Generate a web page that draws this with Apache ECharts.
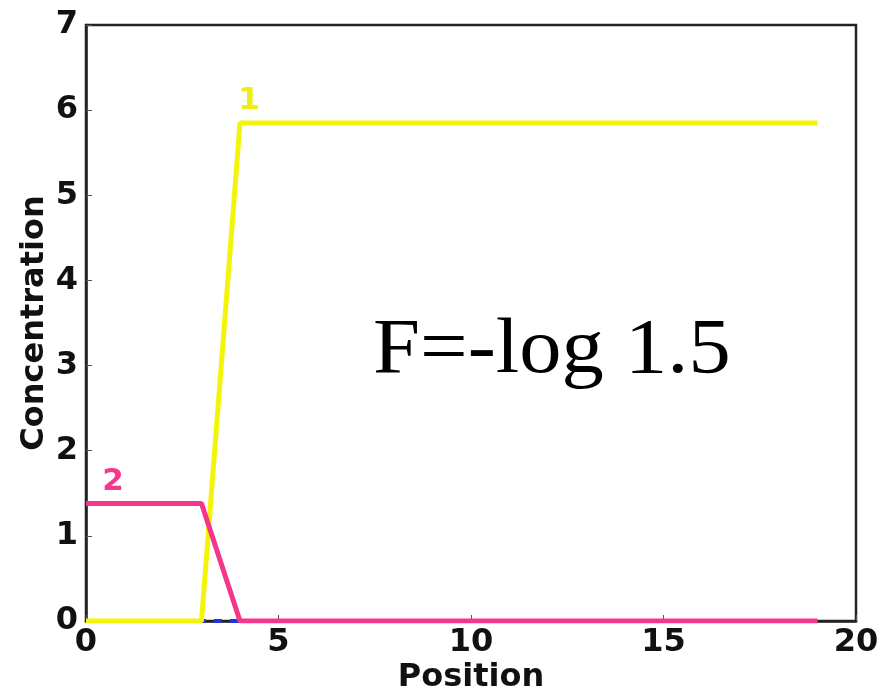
<!DOCTYPE html>
<html>
<head>
<meta charset="utf-8">
<script src="https://cdn.jsdelivr.net/npm/echarts@6/dist/echarts.min.js"></script>
<style>html,body{margin:0;padding:0;background:#fff;}#chart{width:883px;height:697px;}</style>
</head>
<body>
<div id="chart"></div>
<script>
// positions along the tube
var positions = [0, 1, 2, 3, 4, 5, 6, 7, 8, 9, 10, 11, 12, 13, 14, 15, 16, 17, 18, 19];
// species 1 (yellow), species 2 (pink), species 3 (blue, mostly hidden underneath)
var conc1 = [0, 0, 0, 0, 5.85, 5.85, 5.85, 5.85, 5.85, 5.85, 5.85, 5.85, 5.85, 5.85, 5.85, 5.85, 5.85, 5.85, 5.85, 5.85];
var conc2 = [1.38, 1.38, 1.38, 1.38, 0, 0, 0, 0, 0, 0, 0, 0, 0, 0, 0, 0, 0, 0, 0, 0];
var conc3 = [0, 0, 0, 0, 0, 0, 0, 0, 0, 0, 0, 0, 0, 0, 0, 0, 0, 0, 0, 0];
var curveNames = ['1', '2', '3'];
var labelIndex = [4, 0];

var chart = echarts.init(document.getElementById('chart'));

function pairs(vals) {
    return vals.map(function (v, i) { return [positions[i], v]; });
}

// curve number written just above one point of the curve
function curveTag(vals, idx, name, color, dx) {
    return {
        symbol: 'circle', symbolSize: 0, silent: true,
        data: [{ coord: [positions[idx], vals[idx]] }],
        label: {
            show: true, formatter: name, position: 'top', distance: 6,
            offset: [dx, 0],
            color: color, fontSize: 31, fontWeight: 'bold', fontFamily: 'DejaVu Sans'
        }
    };
}

var tickFont = { fontFamily: 'DejaVu Sans', fontWeight: 'bold', fontSize: 32, color: '#111' };
var nameFont = { fontFamily: 'DejaVu Sans', fontWeight: 'bold', fontSize: 32, color: '#111' };

var option = {
    animation: false,
    grid: { left: 86, top: 25, right: 27, bottom: 76, outerBoundsMode: 'none',
            show: true, borderColor: '#222', borderWidth: 2.5 },
    xAxis: {
        type: 'value', min: 0, max: 20, interval: 5,
        name: 'Position', nameLocation: 'middle', nameGap: 41, nameMoveOverlap: false,
        nameTextStyle: nameFont,
        axisLine: { show: true, lineStyle: { color: '#222', width: 2.5 } },
        axisTick: { show: true, inside: true, length: 6, lineStyle: { color: '#555' } },
        axisLabel: Object.assign({ margin: 6 }, tickFont),
        splitLine: { show: false }
    },
    yAxis: {
        type: 'value', min: 0, max: 7, interval: 1,
        name: 'Concentration', nameLocation: 'middle', nameGap: 35, nameMoveOverlap: false,
        nameTextStyle: nameFont,
        axisLine: { show: true, lineStyle: { color: '#222', width: 2.5 } },
        axisTick: { show: true, inside: true, length: 6, lineStyle: { color: '#555' } },
        axisLabel: Object.assign({ margin: 8 }, tickFont),
        splitLine: { show: false }
    },
    graphic: [{
        type: 'text', left: 373, top: 312, scaleX: 1.07,
        style: { text: 'F=-log 1.5', fontFamily: 'Liberation Serif', fontSize: 79, fill: '#000' }
    }],
    series: [
        {
            name: curveNames[2], type: 'line', showSymbol: false, z: 1,
            data: pairs(conc3),
            lineStyle: { color: '#2233dd', width: 4, type: [8, 8] }
        },
        {
            name: curveNames[0], type: 'line', showSymbol: false, z: 3,
            data: pairs(conc1),
            lineStyle: { color: '#f4f40a', width: 5 },
            markPoint: curveTag(conc1, labelIndex[0], curveNames[0], '#eeee10', 9)
        },
        {
            name: curveNames[1], type: 'line', showSymbol: false, z: 4,
            data: pairs(conc2),
            lineStyle: { color: '#f4378b', width: 5 },
            markPoint: curveTag(conc2, labelIndex[1], curveNames[1], '#f4378b', 27)
        }
    ]
};
chart.setOption(option);
</script>
</body>
</html>
